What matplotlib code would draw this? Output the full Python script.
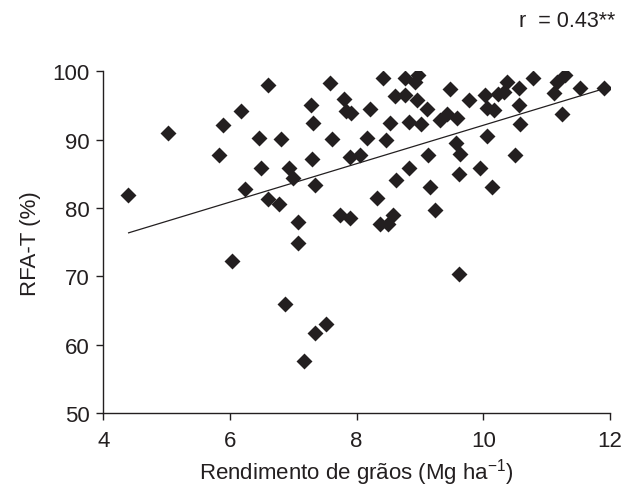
import matplotlib
matplotlib.use("Agg")
import matplotlib.pyplot as plt
import numpy as np

plt.rcParams['font.family'] = ['Liberation Sans', 'DejaVu Sans']
plt.rcParams['mathtext.fontset'] = 'custom'
plt.rcParams['mathtext.rm'] = 'Liberation Sans'
plt.rcParams['mathtext.default'] = 'regular'

rendimento = [4.39, 5.02, 5.83, 5.89, 6.17, 6.46, 6.49, 6.24, 6.60, 6.60,
              6.80, 6.93, 6.99, 6.78, 7.08, 7.07, 6.04, 6.87, 7.51, 7.35, 7.17,
              7.58, 7.28, 7.31, 7.29, 7.35, 7.61, 7.74, 7.80, 7.84, 7.91, 7.90,
              7.90, 8.06, 8.17, 8.21, 8.32, 8.37, 8.42, 8.47, 8.49, 8.52, 8.57,
              8.61, 8.62, 8.77, 8.77, 8.83, 8.83, 8.92, 8.97, 8.96, 9.01, 9.11,
              9.13, 9.16, 9.23, 9.32, 9.43, 9.47, 9.58, 9.57, 9.64, 9.61, 9.61,
              9.78, 9.95, 10.03, 10.06, 10.06, 10.14, 10.17, 10.24, 10.33, 10.38,
              10.50, 10.56, 10.57, 10.58, 10.78, 11.12, 11.16, 11.24, 11.29,
              11.52, 11.90]
rfa_t = [81.9, 91.0, 87.8, 92.2, 94.2, 90.2, 85.8, 82.8, 81.3, 98.0,
         90.1, 85.8, 84.4, 80.6, 77.9, 74.9, 72.2, 65.9, 63.0, 61.7, 57.6,
         98.3, 95.0, 92.4, 87.2, 83.4, 90.1, 78.9, 96.0, 94.2, 93.9, 87.4,
         78.5, 87.8, 90.2, 94.5, 81.4, 77.7, 99.0, 90.0, 77.7, 92.4, 78.9,
         96.4, 84.1, 99.0, 96.6, 92.6, 85.8, 98.5, 99.5, 95.8, 92.3, 94.5,
         87.7, 83.0, 79.7, 92.9, 93.7, 97.4, 93.2, 89.5, 87.9, 84.9, 70.4,
         95.8, 85.8, 96.6, 94.7, 90.6, 83.0, 94.3, 96.7, 96.9, 98.5,
         87.8, 95.1, 97.5, 92.3, 99.0, 96.8, 98.5, 93.7, 99.5,
         97.5, 97.5]

# regression line
reg_intercept = 64.0
reg_slope = 2.81
reg_x = [4.4, 11.9]

xticks = [4, 6, 8, 10, 12]
yticks = [50, 60, 70, 80, 90, 100]

fig = plt.figure(figsize=(6.24, 5.02), dpi=100)
ax = fig.add_axes([0.1655, 0.1753, 0.812, 0.6807])

ax.scatter(rendimento, rfa_t, marker='D', s=66, color='#231f20', linewidths=0, zorder=3)
lx = np.array(reg_x)
ax.plot(lx, reg_intercept + reg_slope * lx, color='#231f20', lw=0.9, zorder=2)

ax.set_xlim(4, 12)
ax.set_ylim(50, 100)
ax.set_xticks(xticks)
ax.set_yticks(yticks)
for s in ['top', 'right']:
    ax.spines[s].set_visible(False)
for s in ['left', 'bottom']:
    ax.spines[s].set_color('#231f20')
    ax.spines[s].set_linewidth(1.0)
    ax.spines[s].set_clip_on(False)
ax.tick_params(direction='out', length=5, width=1.0, color='#231f20',
               labelsize=16, labelcolor='#231f20')
ax.tick_params(axis='x', pad=7)
ax.tick_params(axis='y', pad=5)

ax.set_xlabel('Rendimento de grãos (Mg ha$^{-1}$)', fontsize=16, color='#231f20', labelpad=4)
ax.set_ylabel('RFA-T (%)', fontsize=16, color='#231f20', labelpad=8)

fig.text(0.986, 0.957, 'r  = 0.43**', fontsize=15.5, color='#231f20', ha='right', va='center')

fig.savefig('out.png', dpi=100, facecolor='white')
